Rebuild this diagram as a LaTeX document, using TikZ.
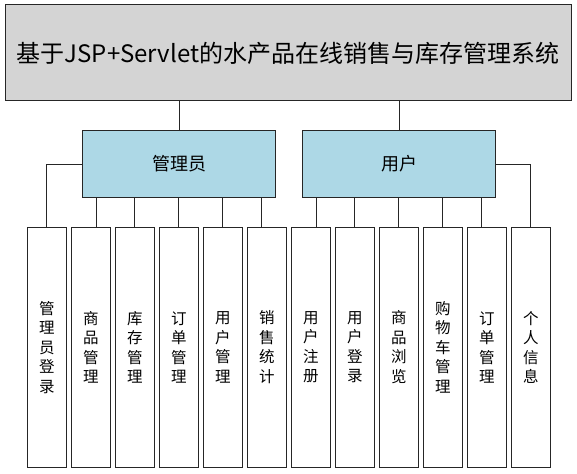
\documentclass[tikz,border=0pt]{standalone}
\usepackage{fontspec}
\setmainfont{Noto Sans CJK SC}
\newfontfamily\cjk{Noto Sans CJK SC}
\begin{document}
\begin{tikzpicture}[x=1pt,y=-1pt,
  box/.style={draw=black!85,line width=1pt,inner sep=0pt,align=center,font=\cjk},
  topbox/.style={box,fill=black!17,minimum width=566pt,minimum height=96pt,font=\cjk\fontsize{24}{28}\selectfont},
  midbox/.style={box,fill=lightblue,minimum width=193pt,minimum height=67pt,font=\cjk\fontsize{18}{21}\selectfont},
  leafbox/.style={box,fill=white,minimum width=38.6pt,minimum height=240pt,font=\cjk\fontsize{15.5}{19.5}\selectfont},
  conn/.style={draw=black!85,line width=1pt}]
\definecolor{lightblue}{RGB}{173,216,230}
\useasboundingbox (0,0) rectangle (577,473);
\node[topbox] (top) at (288,53) {基于JSP+Servlet的水产品在线销售与库存管理系统};
\node[midbox] (admin) at (179,164) {管理员};
\node[midbox] (user) at (399,164) {用户};
\node[leafbox] (b1)  at (46.8,347.3)  {管\\理\\员\\登\\录};
\node[leafbox] (b2)  at (90.8,347.3)  {商\\品\\管\\理};
\node[leafbox] (b3)  at (134.8,347.3) {库\\存\\管\\理};
\node[leafbox] (b4)  at (178.8,347.3) {订\\单\\管\\理};
\node[leafbox] (b5)  at (222.8,347.3) {用\\户\\管\\理};
\node[leafbox] (b6)  at (266.8,347.3) {销\\售\\统\\计};
\node[leafbox] (b7)  at (310.8,347.3) {用\\户\\注\\册};
\node[leafbox] (b8)  at (354.8,347.3) {用\\户\\登\\录};
\node[leafbox] (b9)  at (398.8,347.3) {商\\品\\浏\\览};
\node[leafbox] (b10) at (442.8,347.3) {购\\物\\车\\管\\理};
\node[leafbox] (b11) at (486.8,347.3) {订\\单\\管\\理};
\node[leafbox] (b12) at (530.8,347.3) {个\\人\\信\\息};
% top level
\draw[conn] (top.south -| admin.north) -- (admin.north);
\draw[conn] (top.south -| user.north) -- (user.north);
% admin children
\draw[conn] (admin.west) -| (b1.north);
\draw[conn] ([xshift=5.8pt]b2.north |- admin.south) -- ([xshift=5.8pt]b2.north);
\draw[conn] (admin.south -| b3.north) -- (b3.north);
\draw[conn] (admin.south -| b4.north) -- (b4.north);
\draw[conn] (admin.south -| b5.north) -- (b5.north);
\draw[conn] ([xshift=-5.2pt]b6.north |- admin.south) -- ([xshift=-5.2pt]b6.north);
% user children
\draw[conn] ([xshift=5.8pt]b7.north |- user.south) -- ([xshift=5.8pt]b7.north);
\draw[conn] (user.south -| b8.north) -- (b8.north);
\draw[conn] (user.south -| b9.north) -- (b9.north);
\draw[conn] (user.south -| b10.north) -- (b10.north);
\draw[conn] ([xshift=-5.2pt]b11.north |- user.south) -- ([xshift=-5.2pt]b11.north);
\draw[conn] (user.east) -| (b12.north);
\end{tikzpicture}
\end{document}
